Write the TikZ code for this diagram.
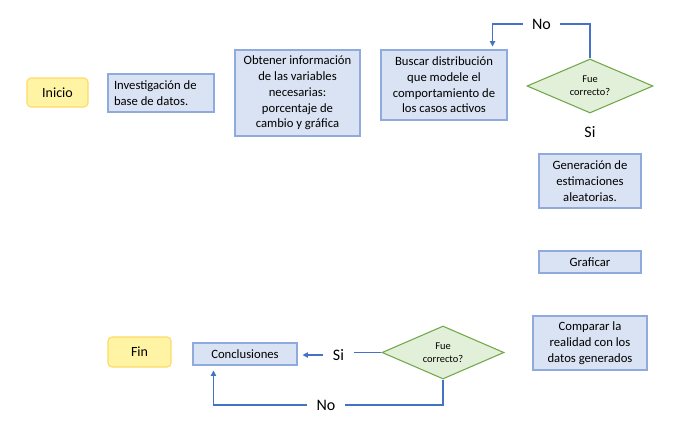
\documentclass[tikz,border=0pt]{standalone}
\usepackage{fontspec}
\setmainfont{Carlito}
\usetikzlibrary{shapes.geometric,arrows.meta,calc}
\definecolor{yfill}{HTML}{FFF4A3}
\definecolor{ydraw}{HTML}{FFD966}
\definecolor{bfill}{HTML}{DAE3F3}
\definecolor{bdraw}{HTML}{8FAADC}
\definecolor{gfill}{HTML}{E2F0D9}
\definecolor{gdraw}{HTML}{70A84A}
\definecolor{conn}{HTML}{4472C4}
\tikzset{
  startend/.style={draw=ydraw, fill=yfill, line width=0.8pt, rounded corners=3pt, inner sep=0pt, font=\fontsize{10.5}{12}\selectfont},
  bluebox/.style={draw=bdraw, fill=bfill, line width=0.8pt, inner sep=0pt, align=center, font=\fontsize{9.5}{11.8}\selectfont},
  decision/.style={diamond, draw=gdraw, fill=gfill, line width=0.8pt, inner sep=0pt, align=center, font=\fontsize{7.8}{9.5}\selectfont},
  lab/.style={inner sep=0pt, inner xsep=7pt, font=\fontsize{12}{14}\selectfont},
  conline/.style={draw=conn, line width=0.8pt},
  conarrow/.style={conline, -{Triangle[length=4pt,width=4pt]}},
}
\begin{document}
\begin{tikzpicture}[x=0.75pt,y=-0.75pt]
\useasboundingbox (0,0) rectangle (697,439);
\node[startend, minimum width=61*0.75pt, minimum height=29*0.75pt] (inicio) at (57.5,92.5) {Inicio};
\node[bluebox, minimum width=106*0.75pt, minimum height=38*0.75pt, text width=94*0.75pt, align=flush left] (inv) at (161,93) {Investigación de\\base de datos.};
\node[bluebox, minimum width=125*0.75pt, minimum height=86*0.75pt] (obt) at (297.5,93) {Obtener información\\de las variables\\necesarias:\\porcentaje de\\cambio y gráfica};
\node[bluebox, minimum width=126*0.75pt, minimum height=70*0.75pt] (bus) at (444,85) {Buscar distribución\\que modele el\\comportamiento de\\los casos activos};
\node[decision, minimum width=126*0.75pt, minimum height=54*0.75pt, shape aspect=2.33] (d1) at (590,86) {Fue\\correcto?};
\node[lab] (no1) at (541.5,24) {No};
\node[lab] (si1) at (590,132) {Si};
\node[bluebox, minimum width=102*0.75pt, minimum height=54*0.75pt] (gen) at (590,181) {Generación de\\estimaciones\\aleatorias.};
\node[bluebox, minimum width=102*0.75pt, minimum height=22*0.75pt] (graf) at (590,262) {Graficar};
\node[bluebox, minimum width=114*0.75pt, minimum height=54*0.75pt] (comp) at (590,343) {Comparar la\\realidad con los\\datos generados};
\node[startend, minimum width=63*0.75pt, minimum height=30*0.75pt] (fin) at (139.5,352) {Fin};
\node[bluebox, minimum width=104*0.75pt, minimum height=22*0.75pt] (concl) at (245,354) {Conclusiones};
\node[decision, minimum width=122*0.75pt, minimum height=53*0.75pt, shape aspect=2.3] (d2) at (443,352.5) {Fue\\correcto?};
\node[lab] (si2) at (338.5,355) {Si};
\node[lab] (no2) at (326,405) {No};
% connectors
\draw[conline] (d1.north) |- (no1.east);
\draw[conarrow] (no1.west) -| ($(bus.north east)+(-15,-3)$);
\draw[conline] (d2.west) -- (d2.west -| si2.east);
\draw[conarrow] (si2.west) -- ($(si2.west -| concl.east)+(5,0)$);
\draw[conline] (d2.south) |- (no2.east);
\draw[conarrow] (no2.west) -| ($(concl.south west)+(21,5)$);
\end{tikzpicture}
\end{document}
